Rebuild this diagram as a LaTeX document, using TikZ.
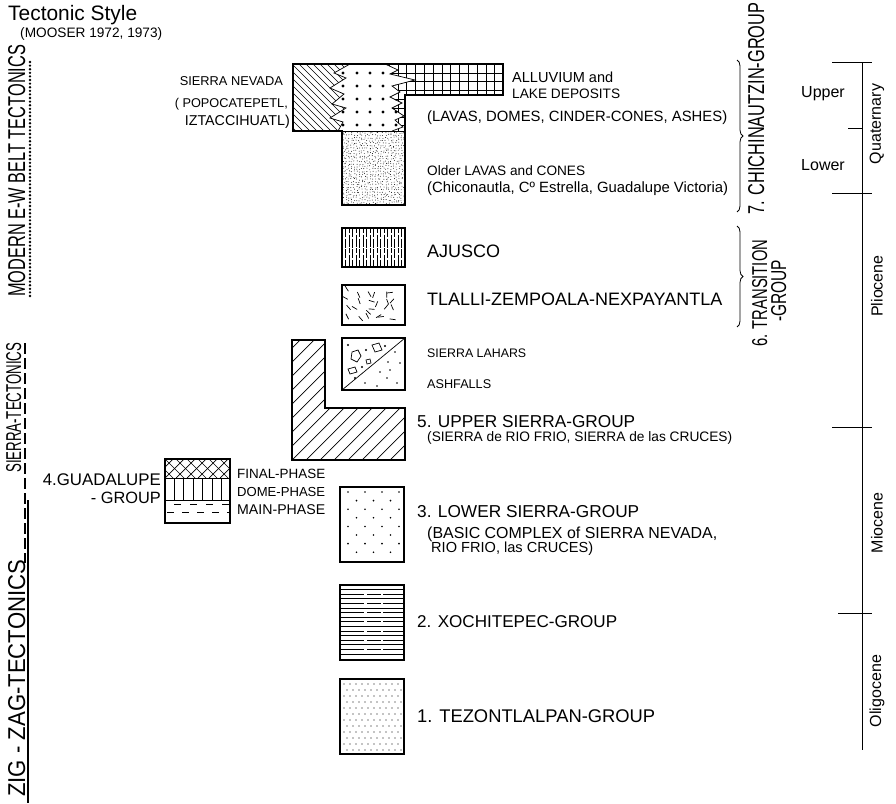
\documentclass[tikz,border=0pt]{standalone}
\usepackage{graphicx}
\usepackage{fontspec}
\setmainfont{Liberation Sans}
\usetikzlibrary{decorations.pathreplacing}
\newcommand{\tw}[2]{\resizebox{#1pt}{!}{#2}}
\newcommand{\tc}[3]{\resizebox{#1pt}{#2pt}{#3}}
\begin{document}
\begin{tikzpicture}[x=1pt,y=-1pt,
  box/.style={line width=2.2pt, line join=miter},
  pat/.style={line width=0.7pt},
  lbl/.style={inner sep=0pt, anchor=base west},
  lblr/.style={inner sep=0pt, anchor=base east},
  vlbl/.style={inner sep=0pt, anchor=base west, rotate=90},
  brc/.style={decorate, decoration={brace, amplitude=6pt}, line width=0.8pt},
  tick/.style={line width=0.9pt},
  per/.style={inner sep=0pt, rotate=90, font=\fontsize{16}{16}\selectfont}
]
\fill[white] (0,0) rectangle (896,803);
\useasboundingbox (0,0) rectangle (896,803);

% ---------- titles ----------
\node[lbl] (title) at (8,20) {\tw{129}{Tectonic Style}};
\node[lbl] (mooser) at (20,37) {\tw{142}{(MOOSER 1972, 1973)}};

% ---------- tectonic style column ----------
\node[vlbl] (modern) at (25,297) {\tc{252}{17}{MODERN E-W BELT TECTONICS}};
\node[vlbl] (sierraT) at (21,473) {\tc{130}{15}{SIERRA-TECTONICS}};
\node[vlbl] (zigzag) at (25,797) {\tc{237}{17}{ZIG - ZAG-TECTONICS}};
\coordinate (d1) at (30,62); \coordinate (d2) at (30,297);
\coordinate (s1) at (25,343); \coordinate (s2) at (25,563);
\coordinate (z1) at (28,500); \coordinate (z2) at (28,803);
\draw[line width=2.6pt, line cap=round, dash pattern=on 0pt off 3.6pt] (d1) -- (d2);
\draw[line width=2.4pt, dash pattern=on 11pt off 4pt] (s1) -- (s2);
\draw[line width=2.4pt] (z1) -- (z2);

% ---------- Sierra Nevada / Chichinautzin complex ----------
\begin{scope}
\clip (385,64) -- (398,70) -- (390,74) -- (415,80) -- (392,86) -- (400,92) -- (390,97) -- (402,103) -- (392,108) -- (404,116) -- (395,120) -- (403,127) -- (392,131) -- (405,131) -- (405,95) -- (503,95) -- (503,64) -- cycle;
\foreach \x in {380.4,389.2,...,503} \draw[pat] (\x,64) -- (\x,131);
\foreach \y in {73,81.8,...,131} \draw[pat] (380,\y) -- (503,\y);
\end{scope}
\begin{scope}
\clip (293,64) -- (350,64) -- (334,73) -- (346,78) -- (330,88) -- (344,94) -- (332,104) -- (346,108) -- (330,118) -- (343,122) -- (338,131) -- (293,131) -- cycle;
\foreach \x in {222,229,...,360} \draw[pat] (\x,64) -- ++(67,67);
\end{scope}
\begin{scope}
\clip (350,64) -- (334,73) -- (346,78) -- (330,88) -- (344,94) -- (332,104) -- (346,108) -- (330,118) -- (343,122) -- (338,131) -- (392,131) -- (403,127) -- (395,120) -- (404,116) -- (392,108) -- (402,103) -- (390,97) -- (400,92) -- (392,86) -- (415,80) -- (390,74) -- (398,70) -- (385,64) -- cycle;
\foreach \x in {343,357,370,383,396} \foreach \y in {73,86,99,112,125} \fill (\x,\y) circle (1.7);
\end{scope}
\draw[pat] (350,64) -- (334,73) -- (346,78) -- (330,88) -- (344,94) -- (332,104) -- (346,108) -- (330,118) -- (343,122) -- (338,131);
\draw[pat] (385,64) -- (398,70) -- (390,74) -- (415,80) -- (392,86) -- (400,92) -- (390,97) -- (402,103) -- (392,108) -- (404,116) -- (395,120) -- (403,127) -- (392,131);
\pgfmathsetseed{3}
\begin{scope}
\clip (342,131) rectangle (405,205);
\foreach \i in {0,...,23} \foreach \j in {0,...,28} \fill ({343.5+\i*2.65+rand*0.9},{132.5+\j*2.6+rand*0.9}) circle (0.45);
\end{scope}
\draw[box] (293,64) -- (503,64) -- (503,95) -- (405,95) -- (405,205) -- (342,205) -- (342,131) -- (293,131) -- cycle;
\draw[pat] (342,131) -- (405,131);

\node[lblr] (sn1) at (283,85) {\tw{103}{SIERRA NEVADA}};
\node[lblr] (sn2) at (288,107) {\tw{113}{( POPOCATEPETL,}};
\node[lblr] (sn3) at (290,125) {\tw{105}{IZTACCIHUATL)}};
\node[lbl] (alluv) at (512,82) {\tw{101}{ALLUVIUM and}};
\node[lbl] (lake) at (512,98) {\tw{108}{LAKE DEPOSITS}};
\node[lbl] (lavas) at (427,121) {\tw{300}{(LAVAS, DOMES, CINDER-CONES, ASHES)}};
\node[lbl] (older) at (427,175) {\tw{158}{Older LAVAS and CONES}};
\node[lbl] (chico) at (427,192) {\tw{301}{(Chiconautla, Cº Estrella, Guadalupe Victoria)}};

% ---------- AJUSCO ----------
\foreach \x in {345.5,352.5,...,403} \draw[pat, dash pattern=on 9pt off 1.5pt] (\x,228) -- (\x,267);
\foreach \x in {349,356,...,403} \draw[pat, dash pattern=on 5pt off 1.5pt on 12pt off 1.5pt] (\x,228) -- (\x,267);
\draw[box] (342,228) rectangle (405,267);
\node[lbl] (ajusco) at (427,257) {\tw{73}{AJUSCO}};

% ---------- TLALLI ----------
\pgfmathsetseed{11}
\foreach \x in {349,358,367,376,385,394} \foreach \y in {291,300,309,318} {
  \pgfmathsetmacro\ang{rnd*360}
  \draw[pat] ({\x+rand*2},{\y+rand*2}) -- ++(\ang:6);
}
\draw[box] (342,285) rectangle (405,325);
\node[lbl] (tlalli) at (427,305) {\tw{295}{TLALLI-ZEMPOALA-NEXPAYANTLA}};

% ---------- Lahars / Ashfalls ----------
\draw[pat] (342,390) -- (405,338);
\draw[pat] (352,352) -- (358,350) -- (361,356) -- (357,362) -- (351,359) -- cycle;
\draw[pat] (372,345) -- (379,343) -- (382,350) -- (375,352) -- cycle;
\draw[pat] (348,369) -- (355,367) -- (357,372) -- (350,374) -- cycle;
\draw[pat] (366,360) -- (370,359) -- (371,363) -- (367,364) -- cycle;
\foreach \p in {(348,345),(362,367),(366,350),(385,346),(355,378)} \fill \p circle (1.1);
\foreach \p in {(388,362),(390,370),(365,383),(387,378),(397,383),(400,363),(377,386),(395,352),(380,372)} \fill \p circle (0.8);
\draw[box] (342,338) rectangle (405,390);
\node[lbl] (lahars) at (427,357) {\tw{99}{SIERRA LAHARS}};
\node[lbl] (ashf) at (427,388) {\tw{64}{ASHFALLS}};

% ---------- Upper Sierra ----------
\begin{scope}
\clip (292,340) -- (325,340) -- (325,408) -- (405,408) -- (405,460) -- (292,460) -- cycle;
\foreach \x in {166,180,...,420} \draw[pat] (\x,460) -- ++(120,-120);
\end{scope}
\draw[box] (292,340) -- (325,340) -- (325,408) -- (405,408) -- (405,460) -- (292,460) -- cycle;
\node[lbl] (upper5) at (417,427) {\tw{218}{5. UPPER SIERRA-GROUP}};
\node[lbl] (upper5s) at (427,441) {\tw{305}{(SIERRA de RIO FRIO, SIERRA de las CRUCES)}};

% ---------- Lower Sierra ----------
\foreach \y in {492,509.2,526.4,543.6} \foreach \x in {348,365,382,399} \fill (\x,\y) circle (0.9);
\foreach \y in {500.6,517.8,535,552.2} \foreach \x in {356.5,373.5,390.5} \fill (\x,\y) circle (0.9);
\draw[box] (340,487) rectangle (404,562);
\node[lbl] (lower3) at (417,517) {\tw{222}{3. LOWER SIERRA-GROUP}};
\node[lbl] (lower3s) at (427,538) {\tw{290}{(BASIC COMPLEX of SIERRA NEVADA,}};
\node[lbl] (lower3t) at (431,552) {\tw{162}{RIO FRIO, las CRUCES)}};

% ---------- Xochitepec ----------
\foreach \y in {589.5,598.7,...,657} \draw[pat] (340,\y) -- (404,\y);
\foreach \y in {594.1,603.3,...,657} \draw[pat, dash pattern=on 24pt off 3pt on 14pt off 2pt] (340,\y) -- (404,\y);
\draw[box] (340,585) rectangle (404,660);
\node[lbl] (xochi) at (417,627) {\tw{200}{2. XOCHITEPEC-GROUP}};

% ---------- Tezontlalpan ----------
\foreach \y in {684,696,...,750} \foreach \x in {344,350,...,401} \fill (\x,\y) circle (0.55);
\foreach \y in {690,702,...,750} \foreach \x in {347,353,...,401} \fill (\x,\y) circle (0.55);
\draw[box] (340,679) rectangle (404,754);
\node[lbl] (tezo) at (417,722) {\tw{238}{1. TEZONTLALPAN-GROUP}};

% ---------- Guadalupe ----------
\begin{scope}
\clip (165,459) rectangle (230,478);
\foreach \x in {143,154,...,240} {\draw[pat] (\x,459) -- ++(19,19); \draw[pat] (\x,478) -- ++(19,-19);}
\end{scope}
\draw[pat] (165,478) -- (230,478);
\draw[pat] (165,500) -- (230,500);
\foreach \x in {174,183.5,...,224} \draw[pat] (\x,478) -- (\x,500);
\draw[pat, dash pattern=on 7pt off 9pt] (174,504) -- (230,504);
\draw[pat, dash pattern=on 7pt off 8pt] (167,512) -- (230,512);
\draw[box] (165,459) rectangle (230,523);
\node[lblr] (guad1) at (161,485) {\tw{118}{4.GUADALUPE}};
\node[lblr] (guad2) at (161,503) {\tw{70}{- GROUP}};
\node[lbl] (final) at (237,478) {\tw{88}{FINAL-PHASE}};
\node[lbl] (dome) at (237,496) {\tw{88}{DOME-PHASE}};
\node[lbl] (mainp) at (237,514) {\tw{88}{MAIN-PHASE}};

% ---------- groups on the right ----------
\coordinate (b7t) at (737,60); \coordinate (b7b) at (737,212);
\coordinate (b6t) at (737,226); \coordinate (b6b) at (737,327);
\draw[brc] (b7t) -- (b7b);
\draw[brc] (b6t) -- (b6b);
\node[vlbl] (chich) at (764,215) {\tc{212}{16}{7. CHICHINAUTZIN-GROUP}};
\node[vlbl] (trans1) at (767,347) {\tc{107}{15}{6. TRANSITION}};
\node[vlbl] (trans2) at (786,322) {\tc{62}{15}{-GROUP}};

% ---------- time scale ----------
\coordinate (t0) at (862,62); \coordinate (t1) at (862,750);
\draw[tick] (t0) -- (t1);
\draw[tick] (832,62) -- (872,62);
\draw[tick] (848,128) -- (862,128);
\draw[tick] (832,193) -- (872,193);
\draw[tick] (832,427) -- (872,427);
\draw[tick] (838,613) -- (872,613);
\node[lbl, font=\fontsize{16}{16}\selectfont] (upperq) at (801,97) {Upper};
\node[lbl, font=\fontsize{16}{16}\selectfont] (lowerq) at (801,170) {Lower};
\node[per] (quat) at (877,124) {Quaternary};
\node[per] (plio) at (877,286) {Pliocene};
\node[per] (mio) at (877,523) {Miocene};
\node[per] (oli) at (877,691) {Oligocene};
\end{tikzpicture}
\end{document}
